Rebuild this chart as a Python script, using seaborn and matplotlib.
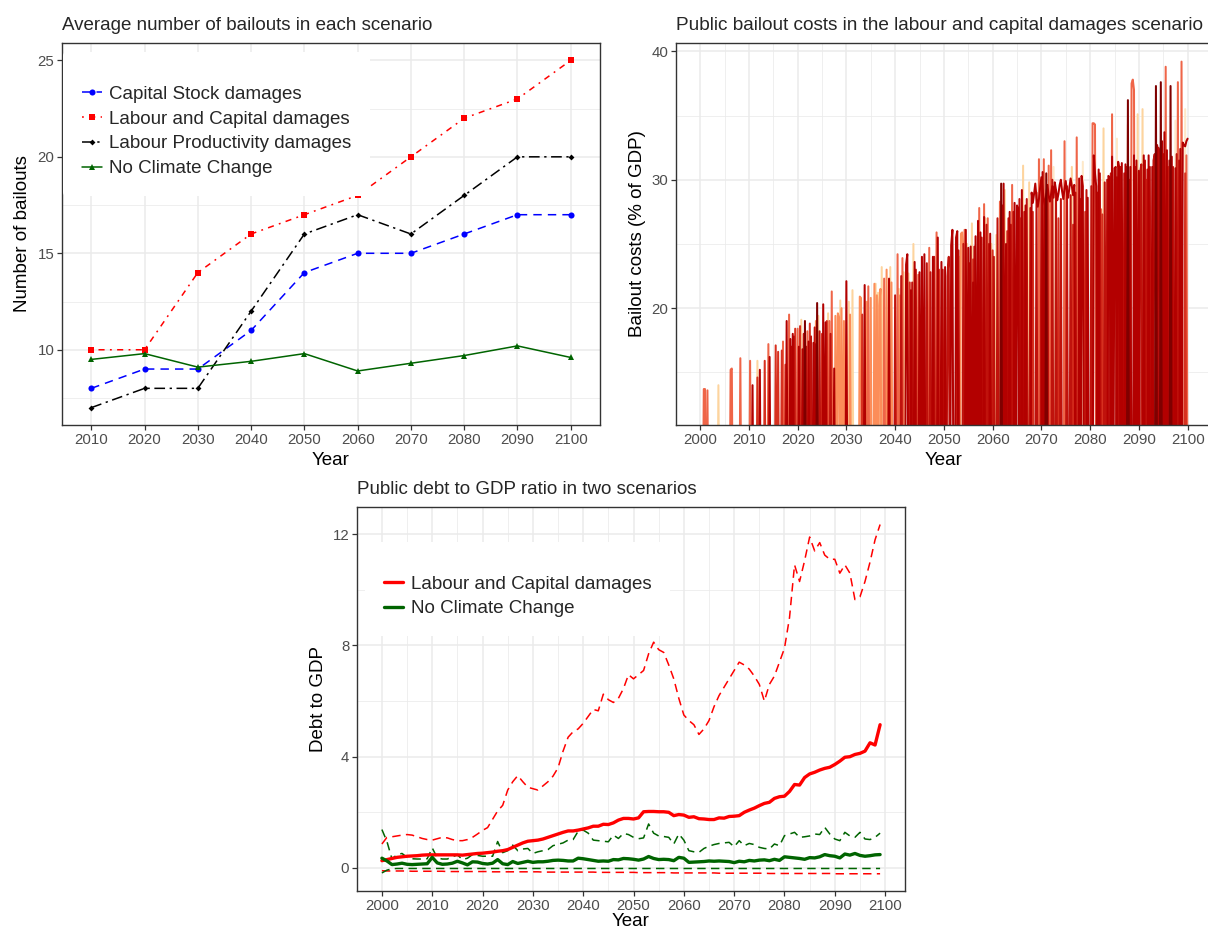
import numpy as np
import pandas as pd
import matplotlib
matplotlib.use("Agg")
import matplotlib.pyplot as plt
import seaborn as sns
from matplotlib.ticker import FixedLocator

sns.set_theme(style="white")
plt.rcParams["font.family"] = ["Liberation Sans", "DejaVu Sans"]

# ---------------- Panel 1: average number of bailouts ----------------
decade_labels = ["2010", "2020", "2030", "2040", "2050", "2060", "2070", "2080", "2090", "2100"]
capital_stock = [8, 9, 9, 11, 14, 15, 15, 16, 17, 17]
labour_capital = [10, 10, 14, 16, 17, 18, 20, 22, 23, 25]
labour_productivity = [7, 8, 8, 12, 16, 17, 16, 18, 20, 20]
no_climate_change = [9.5, 9.8, 9.1, 9.4, 9.8, 8.9, 9.3, 9.7, 10.2, 9.6]
scenario_names = ["Capital Stock damages", "Labour and Capital damages",
                  "Labour Productivity damages", "No Climate Change"]

# ---------------- Panel 2: bailout costs (year, % of GDP) per run ----------------
bail_vlight = [(2072.5, 31.0), (2078.5, 31.4), (2085.5, 33.2), (2097.5, 34.6), (2099.5, 35.5)]
bail_peach = [(2003.75, 14.0), (2011.75, 15.9), (2020.75, 19.1), (2024.25, 19.4), (2026.25, 19.6),
              (2028.75, 20.6), (2030.5, 20.5), (2031.25, 21.4), (2034.0, 20.5), (2036.0, 21.9),
              (2036.5, 21.2), (2037.25, 23.2), (2039.0, 23.2), (2040.75, 21.5), (2041.75, 22.8),
              (2042.75, 22.7), (2043.75, 25.0), (2053.25, 24.0), (2054.75, 25.0), (2055.75, 26.6),
              (2058.5, 27.0), (2059.75, 25.0), (2060.75, 25.7), (2062.5, 29.2), (2066.25, 31.1),
              (2067.5, 29.8), (2076.25, 31.0), (2082.75, 34.0), (2087.75, 34.3), (2089.75, 35.1),
              (2090.75, 35.5)]
bail_orange = [(2023.75, 19.0), (2027.75, 19.4), (2028.25, 19.6), (2028.5, 19.3), (2029.0, 20.0),
               (2029.5, 19.0), (2030.75, 19.5), (2032.75, 20.9), (2033.0, 20.8), (2034.25, 20.5),
               (2035.0, 20.8), (2035.75, 21.9), (2036.25, 21.0), (2036.75, 20.2), (2037.0, 21.5),
               (2038.25, 23.0), (2039.25, 22.0), (2041.0, 21.0), (2053.5, 25.8), (2053.75, 25.9),
               (2054.0, 24.6), (2058.75, 26.0), (2062.0, 25.5)]
bail_salmon = [(2000.75, 13.7), (2001.0, 13.7), (2001.5, 13.6), (2006.25, 15.2), (2006.5, 15.3),
               (2008.25, 16.1), (2010.25, 15.9), (2014.0, 17.2), (2017.0, 17.4), (2018.25, 19.5),
               (2020.0, 18.4), (2022.0, 18.2), (2026.5, 19.0), (2027.0, 21.3), (2034.5, 21.7),
               (2037.75, 22.3), (2040.5, 24.2), (2041.5, 23.9), (2044.75, 22.6), (2047.0, 24.7),
               (2048.5, 25.9), (2054.25, 26.1), (2057.25, 27.8), (2058.25, 28.1), (2059.0, 27.0),
               (2061.5, 28.3), (2064.0, 29.6), (2069.5, 31.6), (2070.5, 31.6), (2071.5, 31.1),
               (2072.0, 32.3), (2074.75, 33.0), (2077.25, 33.3), (2080.5, 34.4), (2080.75, 34.4),
               (2081.0, 34.3), (2081.75, 28.6), (2082.25, 27.7), (2084.5, 35.1), (2088.5, 37.5),
               (2088.75, 37.8), (2089.0, 37.0), (2095.5, 38.8), (2098.0, 37.6), (2098.75, 39.2),
               (2099.75, 31.9)]
bail_red = [(2011.75, 14.6), (2013.25, 15.9), (2015.5, 17.1), (2016.0, 16.6), (2016.75, 16.7),
            (2017.5, 15.6), (2019.5, 18.4), (2020.5, 18.6), (2022.5, 18.8), (2025.0, 18.0),
            (2026.0, 19.0), (2033.25, 19.5), (2043.0, 22.0), (2049.0, 23.0), (2052.75, 24.5),
            (2056.0, 23.8), (2060.0, 24.5), (2063.0, 26.0), (2065.75, 27.0), (2068.25, 27.5),
            (2073.5, 27.0), (2076.5, 26.5), (2079.0, 27.5), (2082.5, 27.3), (2086.0, 29.0),
            (2091.5, 30.0), (2096.0, 31.0), (2099.5, 30.5)]
bail_dark = [(2010.75, 14.0), (2012.25, 15.2), (2014.25, 16.2), (2017.75, 19.0), (2018.5, 17.6),
             (2019.0, 18.0), (2020.25, 17.0), (2021.0, 16.8), (2022.25, 17.4), (2023.25, 17.3),
             (2023.75, 17.2), (2025.25, 20.3), (2025.75, 18.9), (2027.5, 15.3), (2030.0, 22.1),
             (2033.75, 21.8), (2038.75, 22.3), (2042.25, 23.4), (2042.5, 24.2), (2043.25, 21.4),
             (2044.0, 23.6), (2045.0, 22.8), (2045.5, 24.0), (2046.0, 24.2), (2047.75, 24.0),
             (2048.75, 25.5), (2049.5, 23.6), (2050.25, 23.2), (2051.5, 24.9), (2051.75, 26.1),
             (2052.5, 25.5), (2052.75, 26.0), (2054.5, 26.1), (2055.0, 24.7), (2055.5, 24.8),
             (2056.0, 22.0), (2056.5, 25.6), (2057.0, 26.8), (2057.5, 25.9), (2058.25, 27.1),
             (2059.5, 25.8), (2062.25, 29.7), (2062.75, 25.0), (2063.5, 27.5), (2064.5, 28.2),
             (2065.0, 28.0), (2065.25, 27.8), (2066.0, 29.2), (2066.75, 28.0), (2070.25, 30.6),
             (2070.75, 28.0), (2077.75, 30.1), (2078.25, 30.3), (2078.5, 29.5), (2079.5, 28.6),
             (2080.75, 31.9), (2081.0, 30.5), (2081.25, 29.5), (2081.75, 30.8), (2083.75, 30.3),
             (2084.0, 30.2), (2084.5, 31.8), (2085.0, 30.9), (2085.25, 31.0), (2085.75, 31.4),
             (2086.0, 30.8), (2086.5, 31.3), (2087.25, 31.2), (2088.25, 31.0), (2089.0, 31.9),
             (2089.5, 31.5), (2090.0, 30.7), (2091.0, 31.9), (2092.0, 31.9), (2092.75, 31.0),
             (2093.75, 32.7), (2094.75, 33.0), (2095.25, 33.7), (2095.75, 32.3), (2096.75, 31.8),
             (2097.5, 30.9), (2098.5, 32.4), (2099.0, 32.9), (2099.25, 32.7), (2099.5, 32.6),
             (2099.75, 33.0), (2100.0, 33.2)]
bail_dark_run2 = [(2068.0, 29.0), (2068.25, 28.2), (2068.5, 28.9), (2068.75, 29.7), (2069.0, 28.6),
                  (2069.25, 27.9), (2069.5, 28.5), (2069.75, 29.4), (2070.0, 30.2), (2070.25, 29.3),
                  (2070.5, 28.4), (2070.75, 28.0), (2071.0, 28.9), (2071.25, 29.6), (2071.5, 28.7),
                  (2071.75, 28.3), (2072.0, 28.9), (2072.25, 29.5), (2072.5, 28.6), (2072.75, 29.8),
                  (2073.0, 29.2), (2073.25, 28.4), (2073.5, 28.9), (2073.75, 29.6), (2074.0, 30.0),
                  (2074.25, 29.1), (2074.5, 28.5), (2074.75, 29.3), (2075.0, 29.9), (2075.25, 29.0),
                  (2075.5, 28.6), (2075.75, 29.4), (2076.0, 30.1), (2076.25, 29.5), (2076.5, 28.8),
                  (2076.75, 29.6)]
bail_dark_run3 = [(2018.75, 17.0), (2019.25, 17.8), (2021.25, 18.0), (2021.75, 17.0), (2022.75, 17.8),
                  (2023.5, 18.5), (2024.5, 18.2), (2026.75, 18.0), (2040.0, 21.0), (2041.25, 22.5),
                  (2043.5, 22.0), (2044.25, 23.0), (2046.5, 23.5), (2047.25, 22.8), (2048.0, 24.0),
                  (2049.75, 23.0), (2050.75, 22.5), (2051.0, 24.0), (2053.0, 24.5), (2054.0, 25.0),
                  (2055.25, 23.5), (2056.25, 24.8), (2057.75, 25.5), (2058.75, 26.5), (2059.25, 25.0),
                  (2060.25, 24.0), (2061.0, 27.0), (2062.0, 28.0), (2063.25, 27.0), (2063.75, 26.5),
                  (2064.25, 27.5), (2065.5, 28.5), (2066.5, 27.5), (2067.0, 28.5), (2067.75, 27.8),
                  (2069.0, 29.0), (2070.0, 29.5), (2071.25, 29.0), (2072.25, 30.0), (2073.0, 29.2),
                  (2074.0, 28.5), (2075.25, 29.5), (2076.0, 28.8), (2077.0, 29.0), (2078.0, 28.5),
                  (2079.25, 29.2), (2080.25, 29.5), (2081.5, 29.0), (2082.0, 30.5), (2083.0, 29.8),
                  (2083.5, 30.0), (2084.25, 30.5), (2085.5, 30.2), (2086.25, 31.0), (2087.0, 30.5),
                  (2087.5, 31.0), (2088.0, 30.0), (2089.25, 31.0), (2090.25, 30.5), (2090.5, 31.2),
                  (2091.25, 31.5), (2091.75, 30.8), (2092.25, 31.0), (2093.0, 31.5), (2093.25, 32.0),
                  (2094.0, 32.5), (2094.25, 31.8), (2095.0, 32.0), (2096.25, 31.5), (2097.0, 31.0),
                  (2097.75, 32.0), (2098.25, 31.5)]
bail_maroon = [(2021.5, 19.0), (2024.0, 20.4), (2061.75, 29.7), (2071.0, 30.5), (2087.75, 36.2),
               (2093.5, 37.3), (2094.5, 37.6), (2096.5, 37.3)]

# ---------------- Panel 3: debt to GDP ----------------
debt_years = list(range(2000, 2100))
lc_mean = [0.26, 0.30, 0.34, 0.38, 0.40, 0.42, 0.43, 0.44, 0.46, 0.47,
           0.47, 0.47, 0.47, 0.47, 0.47, 0.47, 0.46, 0.48, 0.50, 0.52,
           0.53, 0.55, 0.57, 0.60, 0.62, 0.66, 0.74, 0.82, 0.90, 0.96,
           0.98, 1.00, 1.04, 1.10, 1.16, 1.22, 1.28, 1.33, 1.33, 1.36,
           1.40, 1.44, 1.50, 1.50, 1.57, 1.56, 1.62, 1.72, 1.78, 1.78,
           1.76, 1.80, 2.02, 2.03, 2.03, 2.02, 2.02, 2.00, 1.88, 1.92,
           1.90, 1.82, 1.84, 1.77, 1.76, 1.74, 1.74, 1.80, 1.79, 1.85,
           1.86, 1.88, 2.00, 2.08, 2.15, 2.24, 2.32, 2.36, 2.50, 2.56,
           2.58, 2.75, 3.00, 2.98, 3.25, 3.38, 3.44, 3.52, 3.58, 3.62,
           3.72, 3.84, 3.98, 4.00, 4.08, 4.12, 4.20, 4.50, 4.42, 5.15]
lc_upper = [0.86, 1.10, 1.12, 1.15, 1.18, 1.20, 1.18, 1.12, 1.06, 1.02,
            1.00, 1.05, 1.10, 1.08, 1.02, 0.98, 0.98, 1.02, 1.10, 1.22,
            1.35, 1.45, 1.75, 2.05, 2.25, 2.80, 3.10, 3.32, 3.10, 2.90,
            2.85, 2.80, 2.95, 3.10, 3.30, 3.60, 4.20, 4.70, 4.90, 5.00,
            5.20, 5.45, 5.70, 5.65, 6.25, 6.05, 5.95, 6.10, 6.45, 6.95,
            6.80, 6.95, 7.10, 7.70, 8.12, 7.85, 7.75, 7.30, 6.80, 6.10,
            5.50, 5.30, 5.15, 4.80, 5.00, 5.30, 5.80, 6.20, 6.50, 6.80,
            7.10, 7.40, 7.30, 7.15, 6.90, 6.60, 6.00, 6.60, 6.90, 7.40,
            7.90, 9.00, 10.90, 10.30, 11.05, 11.90, 11.40, 11.70, 11.25, 11.10,
            11.10, 10.60, 10.90, 10.60, 9.65, 9.75, 10.30, 11.00, 11.80, 12.35]
lc_lower = [-0.10, -0.11, -0.11, -0.11, -0.11, -0.11, -0.12, -0.12, -0.12, -0.12,
            -0.12, -0.12, -0.12, -0.13, -0.13, -0.13, -0.13, -0.13, -0.13, -0.13,
            -0.13, -0.13, -0.14, -0.14, -0.14, -0.14, -0.14, -0.14, -0.14, -0.14,
            -0.14, -0.14, -0.15, -0.15, -0.15, -0.15, -0.15, -0.15, -0.15, -0.15,
            -0.15, -0.15, -0.15, -0.16, -0.16, -0.16, -0.16, -0.16, -0.16, -0.16,
            -0.16, -0.17, -0.17, -0.17, -0.17, -0.17, -0.17, -0.17, -0.18, -0.18,
            -0.18, -0.18, -0.18, -0.18, -0.18, -0.18, -0.18, -0.19, -0.19, -0.19,
            -0.19, -0.19, -0.19, -0.19, -0.19, -0.19, -0.19, -0.20, -0.20, -0.20,
            -0.20, -0.20, -0.20, -0.20, -0.20, -0.20, -0.20, -0.20, -0.20, -0.20,
            -0.21, -0.21, -0.21, -0.21, -0.21, -0.21, -0.21, -0.21, -0.21, -0.21]
nc_mean = [0.35, 0.25, 0.12, 0.14, 0.17, 0.13, 0.12, 0.13, 0.14, 0.15,
           0.38, 0.18, 0.13, 0.14, 0.17, 0.24, 0.18, 0.11, 0.22, 0.21,
           0.16, 0.14, 0.17, 0.30, 0.15, 0.12, 0.23, 0.16, 0.20, 0.24,
           0.20, 0.22, 0.22, 0.24, 0.27, 0.28, 0.27, 0.25, 0.25, 0.35,
           0.33, 0.30, 0.27, 0.24, 0.25, 0.24, 0.30, 0.29, 0.34, 0.33,
           0.31, 0.28, 0.32, 0.41, 0.34, 0.30, 0.31, 0.30, 0.26, 0.38,
           0.35, 0.20, 0.21, 0.22, 0.23, 0.25, 0.24, 0.25, 0.24, 0.23,
           0.19, 0.24, 0.22, 0.27, 0.25, 0.28, 0.29, 0.26, 0.31, 0.27,
           0.40, 0.38, 0.36, 0.34, 0.31, 0.37, 0.36, 0.40, 0.48, 0.44,
           0.42, 0.36, 0.50, 0.46, 0.52, 0.45, 0.42, 0.44, 0.47, 0.48]
nc_upper = [1.38, 0.95, 0.32, 0.48, 0.52, 0.38, 0.33, 0.32, 0.32, 0.33,
            0.72, 0.36, 0.32, 0.32, 0.40, 0.47, 0.30, 0.35, 0.48, 0.45,
            0.42, 0.42, 0.42, 0.95, 0.55, 0.62, 0.82, 0.62, 0.68, 0.70,
            0.52, 0.58, 0.62, 0.66, 0.80, 0.85, 0.90, 1.00, 1.02, 1.32,
            1.36, 1.25, 1.00, 0.98, 0.96, 0.94, 1.18, 1.06, 1.24, 1.20,
            1.10, 1.05, 1.08, 1.58, 1.25, 1.15, 1.13, 1.10, 0.86, 1.22,
            1.00, 0.62, 0.58, 0.56, 0.70, 0.78, 0.84, 0.88, 0.90, 0.92,
            0.76, 0.98, 0.80, 0.88, 0.84, 0.74, 0.70, 0.68, 0.86, 0.80,
            1.16, 1.22, 1.28, 1.10, 1.12, 1.15, 1.22, 1.20, 1.46, 1.22,
            1.04, 0.98, 1.28, 1.15, 1.10, 1.28, 1.04, 1.02, 1.10, 1.25]
nc_lower = [-0.18, -0.08, -0.03, -0.02, -0.02, -0.02, -0.02, -0.02, -0.02, -0.02,
            -0.02, -0.02, -0.02, -0.02, -0.02, -0.02, -0.02, -0.02, -0.02, -0.02,
            -0.02, -0.02, -0.02, -0.02, -0.02, -0.02, -0.02, -0.02, -0.02, -0.02,
            -0.02, -0.02, -0.02, -0.02, -0.02, -0.02, -0.02, -0.02, -0.02, -0.02,
            -0.02, -0.02, -0.02, -0.02, -0.02, -0.02, -0.02, -0.02, -0.02, -0.02,
            -0.02, -0.02, -0.02, -0.02, -0.02, -0.02, -0.02, -0.02, -0.02, -0.02,
            -0.02, -0.02, -0.02, -0.02, -0.02, -0.02, -0.02, -0.02, -0.02, -0.02,
            -0.02, -0.02, -0.02, -0.02, -0.02, -0.02, -0.02, -0.02, -0.02, -0.02,
            -0.02, -0.02, -0.02, -0.02, -0.02, -0.02, -0.02, -0.02, -0.02, -0.02,
            -0.02, -0.02, -0.02, -0.02, -0.02, -0.02, -0.02, -0.02, -0.02, -0.02]

# ---------------- figure ----------------
W, H = 1208, 933
fig = plt.figure(figsize=(W / 100, H / 100), dpi=100)
fig.patch.set_facecolor("white")


def px_axes(x0, y0, x1, y1):
    return fig.add_axes([x0 / W, 1 - y1 / H, (x1 - x0) / W, (y1 - y0) / H])


ax1 = px_axes(62, 43, 600, 425)
ax2 = px_axes(676, 43, 1212, 425)
ax3 = px_axes(357, 507, 905, 891)

FS_TXT = 13.5
FS_TICK = 10.8


def style(ax):
    ax.set_facecolor("white")
    for s in ax.spines.values():
        s.set_visible(True)
        s.set_color("#333333")
        s.set_linewidth(1.0)
    ax.grid(which="major", color="#ebebeb", linewidth=1.1)
    ax.grid(which="minor", color="#ebebeb", linewidth=0.55)
    ax.set_axisbelow(True)
    ax.tick_params(which="major", bottom=True, left=True, length=3.5, width=0.9,
                   color="#333333", labelsize=FS_TICK, labelcolor="#4d4d4d", pad=2)
    ax.tick_params(which="minor", bottom=False, left=False, length=0)


# ---- Panel 1 ----
style(ax1)
series1 = [capital_stock, labour_capital, labour_productivity, no_climate_change]
colors1 = ["#0000ff", "#ff0000", "#000000", "#006400"]
markers1 = ["o", "s", "D", "^"]
msizes1 = [4.4, 4.6, 3.0, 5.0]
lstyles1 = [(0, (5.5, 4.0)), (0, (1.2, 3.5, 4.0, 3.5)), (0, (7.0, 3.0, 1.5, 3.0)), "-"]
for name, vals, col, mk, ms, ls in zip(scenario_names, series1, colors1, markers1, msizes1, lstyles1):
    d = pd.DataFrame({"Year": decade_labels, "Bailouts": vals})
    sns.lineplot(data=d, x="Year", y="Bailouts", ax=ax1, color=col, marker=mk,
                 markersize=ms, markeredgewidth=0, linewidth=1.1, linestyle=ls,
                 label=name, sort=False)
ax1.set_xlim(-0.55, len(decade_labels) - 0.45)
ax1.set_ylim(6.1, 25.9)
ax1.yaxis.set_major_locator(FixedLocator([10, 15, 20, 25]))
ax1.yaxis.set_minor_locator(FixedLocator([7.5, 12.5, 17.5, 22.5]))
ax1.set_xlabel("Year", fontsize=FS_TXT, color="black", labelpad=3.5)
ax1.set_ylabel("Number of bailouts", fontsize=FS_TXT, color="black", labelpad=5)
ax1.set_title("Average number of bailouts in each scenario", loc="left", fontsize=FS_TXT, pad=9)
h, l = ax1.get_legend_handles_labels()
ax1.legend(h, l, loc="upper left", bbox_to_anchor=(0.002, 0.976), fontsize=FS_TXT,
           frameon=True, facecolor="white", edgecolor="none", framealpha=1,
           borderpad=1.0, labelspacing=0.41, handlelength=1.1, handletextpad=0.35,
           borderaxespad=0, title=" ", title_fontsize=6)

# ---- Panel 2 ----
style(ax2)
groups = [("run A", bail_vlight, "#fee8c8"), ("run B", bail_peach, "#fdd49e"),
          ("run C", bail_orange, "#fc8d59"), ("run D", bail_salmon, "#ef6548"),
          ("run E", bail_red, "#d7301f"), ("run F", bail_dark_run3, "#c0120c"),
          ("run G", bail_dark, "#b30000"), ("run H", bail_dark_run2, "#b50000"),
          ("run I", bail_maroon, "#7f0000")]
n_q = 401  # quarterly observations 2000Q1 .. 2100Q1
quarter_time = 2000 + np.arange(n_q) / 4
frames = []
for name, spikes, col in groups:
    vals = np.zeros(n_q)
    for yr, cost in spikes:
        i = int(round((yr - 2000) * 4))
        vals[i] = max(vals[i], cost)
    frames.append(pd.DataFrame({"Year": quarter_time, "Cost": vals, "run": name}))
bail_df = pd.concat(frames, ignore_index=True)
sns.lineplot(data=bail_df, x="Year", y="Cost", hue="run",
             hue_order=[g[0] for g in groups], palette={g[0]: g[2] for g in groups},
             estimator=None, linewidth=1.45, legend=False, ax=ax2)
ax2.set_xlim(1995.05, 2105.0)
ax2.set_ylim(10.9, 40.65)
ax2.xaxis.set_major_locator(FixedLocator(list(range(2000, 2101, 10))))
ax2.xaxis.set_minor_locator(FixedLocator(list(range(2005, 2100, 10))))
ax2.yaxis.set_major_locator(FixedLocator([20, 30, 40]))
ax2.yaxis.set_minor_locator(FixedLocator([15, 25, 35]))
ax2.set_xlabel("Year", fontsize=FS_TXT, color="black", labelpad=3.5)
ax2.set_ylabel("Bailout costs (% of GDP)", fontsize=FS_TXT, color="black", labelpad=4)
ax2.set_title("Public bailout costs in the labour and capital damages scenario", loc="left",
              fontsize=13.7, pad=9)

# ---- Panel 3 ----
style(ax3)
dash = (0, (5.5, 3.5))
band_specs = [(lc_upper, "#ff0000"), (lc_lower, "#ff0000"), (nc_upper, "#006400"), (nc_lower, "#006400")]
for vals, col in band_specs:
    sns.lineplot(x=debt_years, y=vals, ax=ax3, color=col, linewidth=1.1, linestyle=dash, legend=False)
sns.lineplot(x=debt_years, y=lc_mean, ax=ax3, color="#ff0000", linewidth=2.4,
             label="Labour and Capital damages")
sns.lineplot(x=debt_years, y=nc_mean, ax=ax3, color="#006400", linewidth=2.4,
             label="No Climate Change")
ax3.set_xlim(1995.05, 2103.95)
ax3.set_ylim(-0.83, 12.98)
ax3.xaxis.set_major_locator(FixedLocator(list(range(2000, 2101, 10))))
ax3.xaxis.set_minor_locator(FixedLocator(list(range(2005, 2100, 10))))
ax3.yaxis.set_major_locator(FixedLocator([0, 4, 8, 12]))
ax3.yaxis.set_minor_locator(FixedLocator([2, 6, 10]))
ax3.set_xlabel("Year", fontsize=FS_TXT, color="black", labelpad=0.5)
ax3.set_ylabel("Debt to GDP", fontsize=FS_TXT, color="black", labelpad=4)
ax3.set_title("Public debt to GDP ratio in two scenarios", loc="left", fontsize=FS_TXT, pad=9)
h3, l3 = ax3.get_legend_handles_labels()
ax3.legend(h3, l3, loc="upper left", bbox_to_anchor=(0.0146, 0.909), fontsize=FS_TXT,
           frameon=True, facecolor="white", edgecolor="none", framealpha=1,
           borderpad=1.0, labelspacing=0.41, handlelength=1.0, handletextpad=0.45,
           borderaxespad=0, title=" ", title_fontsize=6)

fig.savefig("out.png", dpi=100, facecolor="white")
